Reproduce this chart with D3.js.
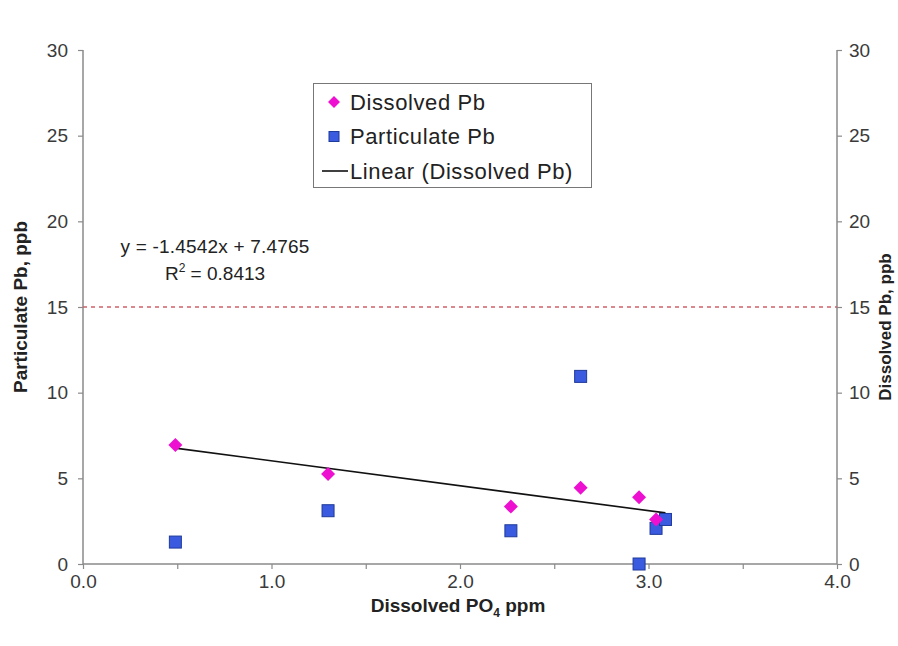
<!DOCTYPE html>
<html><head><meta charset="utf-8">
<script src="https://cdn.jsdelivr.net/npm/d3@7"></script>
<style>body{margin:0;background:#fff}svg{display:block}text{font-family:"Liberation Sans",Arial,sans-serif}</style>
</head><body><svg id="c" width="898" height="646"></svg>
<script>
const dissolvedX = [0.49, 1.30, 2.27, 2.64, 2.95, 3.04];
const dissolvedY = [6.95, 5.25, 3.35, 4.45, 3.89, 2.60];
const particulateX = [0.49, 1.30, 2.27, 2.64, 2.95, 3.04, 3.09];
const particulateY = [1.28, 3.11, 1.94, 10.95, 0.0, 2.08, 2.60];
const trendSlope = -1.4542, trendIntercept = 7.4765;
const actionLevel = 15;
const xTicks = [0, 0.5, 1, 1.5, 2, 2.5, 3, 3.5, 4];
const xLabels = [0, 1, 2, 3, 4];
const yTicks = [0, 5, 10, 15, 20, 25, 30];
const legendItems = ["Dissolved Pb", "Particulate Pb", "Linear (Dissolved Pb)"];

const svg = d3.select("#c");
const L = 83, R = 837, T = 50, B = 564;
const x = d3.scaleLinear().domain([0, 4]).range([L, R]);
const y = d3.scaleLinear().domain([0, 30]).range([B, T]);
const axisCol = "#8a8a8a", txtCol = "#3a3a3a";

// x axis
const xa = svg.append("g").attr("transform", `translate(0,${B})`)
  .call(d3.axisBottom(x).tickValues(xTicks).tickSize(5).tickFormat(d => xLabels.includes(d) ? d3.format(".1f")(d) : ""));
// left axis
const ya = svg.append("g").attr("transform", `translate(${L},0)`)
  .call(d3.axisLeft(y).tickValues(yTicks).tickSize(5));
// right axis
const yr = svg.append("g").attr("transform", `translate(${R},0)`)
  .call(d3.axisRight(y).tickValues(yTicks).tickSize(5));
[xa, ya, yr].forEach(g => {
  g.selectAll("path").attr("stroke", axisCol).attr("stroke-width", 1.5);
  g.selectAll("line").attr("stroke", axisCol).attr("stroke-width", 1.2);
  g.selectAll("text").attr("fill", txtCol).attr("font-size", 19);
});
xa.selectAll("path").attr("d", `M${L},0H${R}`);
ya.selectAll("path").attr("d", `M0,${B}V${T}`);
yr.selectAll("path").attr("d", `M0,${B}V${T}`);
xa.selectAll("text").attr("y", 11);
ya.selectAll("text").attr("x", -15);
yr.selectAll("text").attr("x", 12);

// action level dashed line
svg.append("line").attr("x1", L).attr("x2", R).attr("y1", y(actionLevel)).attr("y2", y(actionLevel))
  .attr("stroke", "#d0606a").attr("stroke-width", 1.5).attr("stroke-dasharray", "4,4");

// trend line
const xmin = d3.min(dissolvedX), xmax = d3.max(particulateX);
svg.append("line").attr("x1", x(xmin)).attr("y1", y(trendSlope * xmin + trendIntercept))
  .attr("x2", x(xmax)).attr("y2", y(trendSlope * xmax + trendIntercept))
  .attr("stroke", "#111").attr("stroke-width", 1.6);

// particulate squares
const sq = 12;
svg.append("g").selectAll("rect").data(particulateX.map((d, i) => [d, particulateY[i]])).join("rect")
  .attr("x", d => x(d[0]) - sq / 2).attr("y", d => y(d[1]) - sq / 2).attr("width", sq).attr("height", sq)
  .attr("fill", "#3a5ae0").attr("stroke", "#1e3a9a").attr("stroke-width", 1);
// dissolved diamonds
const dm = 7;
svg.append("g").selectAll("path").data(dissolvedX.map((d, i) => [d, dissolvedY[i]])).join("path")
  .attr("d", d => `M${x(d[0])},${y(d[1]) - dm}L${x(d[0]) + dm},${y(d[1])}L${x(d[0])},${y(d[1]) + dm}L${x(d[0]) - dm},${y(d[1])}Z`)
  .attr("fill", "#ee10d0");

// equation
svg.append("text").attr("x", 215).attr("y", 253).attr("text-anchor", "middle").attr("font-size", 19).attr("fill", "#222")
  .attr("letter-spacing", 0.2).text("y = -1.4542x + 7.4765");
const r2 = svg.append("text").attr("x", 215).attr("y", 280).attr("text-anchor", "middle").attr("font-size", 19).attr("fill", "#222");
r2.append("tspan").text("R");
r2.append("tspan").attr("font-size", 12).attr("dy", -8).text("2");
r2.append("tspan").attr("dy", 8).text(" = 0.8413");

// legend
const lg = svg.append("g");
lg.append("rect").attr("x", 313.5).attr("y", 83.5).attr("width", 278).attr("height", 104)
  .attr("fill", "#fff").attr("stroke", "#777").attr("stroke-width", 1);
legendItems.forEach((t, i) => {
  const cy = 102 + i * 34.5;
  if (i === 0) lg.append("path").attr("d", `M334,${cy - 6}L340,${cy}L334,${cy + 6}L328,${cy}Z`).attr("fill", "#ee10d0");
  if (i === 1) lg.append("rect").attr("x", 329).attr("y", cy - 5).attr("width", 10).attr("height", 10).attr("fill", "#3a5ae0").attr("stroke", "#1e3a9a");
  if (i === 2) lg.append("line").attr("x1", 322).attr("x2", 348).attr("y1", cy).attr("y2", cy).attr("stroke", "#111").attr("stroke-width", 1.6);
  lg.append("text").attr("x", 350).attr("y", cy).attr("dy", "0.36em").attr("font-size", 22).attr("letter-spacing", 0.6)
    .attr("fill", "#222").text(t);
});

// axis titles
const xt = svg.append("text").attr("x", 458).attr("y", 612).attr("text-anchor", "middle")
  .attr("font-size", 19).attr("font-weight", "bold").attr("fill", "#222");
xt.append("tspan").text("Dissolved PO");
xt.append("tspan").attr("font-size", 12).attr("dy", 5).text("4");
xt.append("tspan").attr("dy", -5).text(" ppm");
svg.append("text").attr("transform", `translate(27,${(T + B) / 2}) rotate(-90)`).attr("text-anchor", "middle")
  .attr("font-size", 19).attr("font-weight", "bold").attr("fill", "#222").text("Particulate Pb, ppb");
svg.append("text").attr("transform", `translate(891,${(T + B) / 2 + 20}) rotate(-90)`).attr("text-anchor", "middle")
  .attr("font-size", 17).attr("font-weight", "bold").attr("fill", "#222").text("Dissolved Pb, ppb");
</script></body></html>
